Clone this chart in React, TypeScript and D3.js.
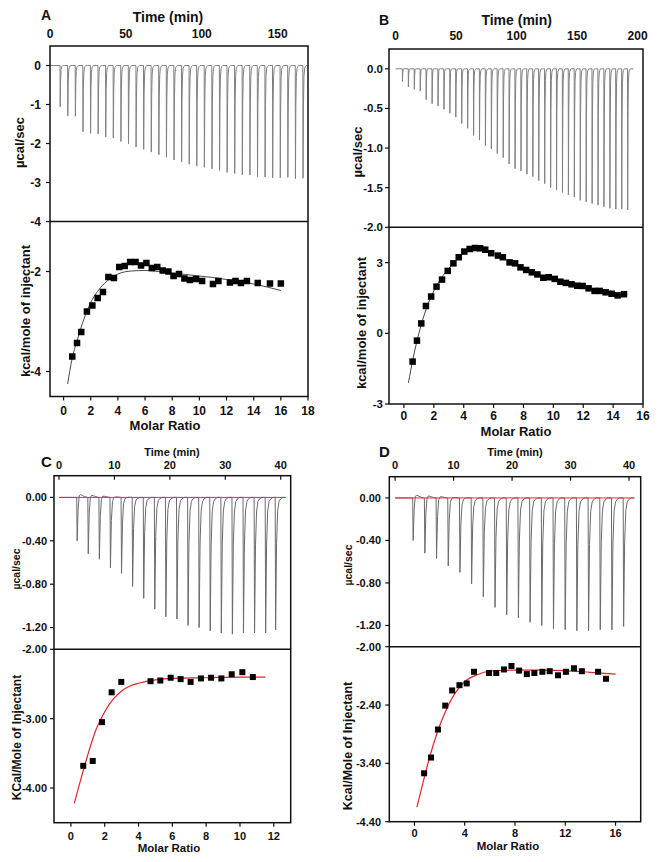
import React from 'react';
import * as d3 from 'd3';

// ---------------- Panel A ----------------
const A_injTime = [6.6, 11.6, 16.6, 21.6, 26.6, 31.6, 36.6, 41.6, 46.6, 51.6, 56.6, 61.6, 66.6, 71.6, 76.6, 81.6, 86.6, 91.6, 96.6, 101.6, 106.6, 111.6, 116.6, 121.6, 126.6, 131.6, 136.6, 141.6, 146.6, 151.6, 156.6, 161.6, 166.6];
const A_peak = [-1.06, -1.29, -1.30, -1.70, -1.74, -1.76, -1.83, -1.86, -1.95, -2.01, -2.09, -2.15, -2.22, -2.29, -2.35, -2.42, -2.47, -2.53, -2.58, -2.61, -2.65, -2.69, -2.74, -2.77, -2.80, -2.81, -2.85, -2.86, -2.88, -2.88, -2.87, -2.90, -2.89];
const A_ratio = [0.64, 0.99, 1.30, 1.72, 2.12, 2.51, 2.90, 3.30, 3.71, 4.10, 4.50, 4.90, 5.30, 5.70, 6.10, 6.50, 6.90, 7.30, 7.72, 8.10, 8.50, 8.90, 9.30, 9.76, 10.20, 11.00, 11.40, 12.25, 12.66, 13.06, 13.50, 14.30, 15.20, 16.00];
const A_heat = [-3.70, -3.43, -3.21, -2.80, -2.68, -2.53, -2.41, -2.11, -2.13, -1.91, -1.89, -1.81, -1.81, -1.88, -1.83, -1.93, -1.91, -1.98, -2.00, -2.09, -2.05, -2.14, -2.17, -2.15, -2.19, -2.25, -2.19, -2.22, -2.19, -2.23, -2.19, -2.23, -2.24, -2.24];
const A_fitRatio = [0.3, 0.6, 1.0, 1.5, 2.0, 2.5, 3.0, 3.5, 4.0, 5.0, 6.0, 7.0, 8.0, 9.0, 10.0, 11.0, 12.0, 13.0, 14.0, 15.0, 16.0];
const A_fitHeat = [-4.25, -3.78, -3.38, -2.95, -2.62, -2.40, -2.24, -2.13, -2.05, -1.99, -1.98, -2.00, -2.03, -2.06, -2.09, -2.12, -2.16, -2.20, -2.25, -2.31, -2.38];
const A_timeTicks = [0, 50, 100, 150];
const A_rateTicks = [0, -1, -2, -3, -4];
const A_rateLabels = ['0', '-1', '-2', '-3', '-4'];
const A_ratioTicks = [0, 2, 4, 6, 8, 10, 12, 14, 16, 18];
const A_heatTicks = [-2, -4];
const A_heatLabels = ['-2', '-4'];

// ---------------- Panel B ----------------
const B_injTime = [5.5, 10.4, 15.3, 20.2, 25.1, 30.0, 34.9, 39.8, 44.7, 49.6, 54.5, 59.4, 64.3, 69.2, 74.1, 79.0, 83.9, 88.8, 93.7, 98.6, 103.5, 108.4, 113.3, 118.2, 123.1, 128.0, 132.9, 137.8, 142.7, 147.6, 152.5, 157.4, 162.3, 167.2, 172.1, 177.0, 181.9, 186.8, 191.7];
const B_peak = [-0.16, -0.23, -0.26, -0.28, -0.39, -0.44, -0.47, -0.51, -0.56, -0.61, -0.69, -0.75, -0.84, -0.90, -0.97, -1.01, -1.07, -1.12, -1.20, -1.26, -1.29, -1.33, -1.36, -1.41, -1.45, -1.50, -1.53, -1.56, -1.59, -1.62, -1.66, -1.68, -1.70, -1.72, -1.74, -1.76, -1.77, -1.77, -1.78];
const B_over = [0.01, 0.005, 0.005, 0.005, 0.015, 0.015, 0.015, 0.012, 0.01, 0.008, 0.005, 0.004, 0, 0, 0, 0, 0, 0, 0, 0, 0, 0, 0, 0, 0, 0, 0, 0, 0, 0, 0, 0, 0, 0, 0, 0, 0, 0, 0];
const B_ratio = [0.58, 0.87, 1.16, 1.47, 1.82, 2.18, 2.55, 2.93, 3.31, 3.67, 4.04, 4.40, 4.76, 5.10, 5.44, 5.84, 6.29, 6.62, 7.07, 7.44, 7.80, 8.18, 8.56, 8.93, 9.33, 9.69, 10.09, 10.47, 10.84, 11.22, 11.60, 11.96, 12.36, 12.76, 13.10, 13.50, 13.90, 14.30, 14.73];
const B_heat = [-1.20, -0.31, 0.42, 1.16, 1.56, 1.98, 2.28, 2.65, 2.97, 3.23, 3.47, 3.58, 3.62, 3.61, 3.55, 3.40, 3.30, 3.23, 3.01, 2.97, 2.80, 2.69, 2.59, 2.50, 2.36, 2.38, 2.31, 2.19, 2.14, 2.08, 2.02, 2.01, 1.91, 1.80, 1.80, 1.74, 1.68, 1.61, 1.66];
const B_fitRatio = [0.3, 0.6, 1.0, 1.5, 2.0, 2.5, 3.0, 3.5, 4.0, 4.5, 5.0, 5.5, 6.0, 7.0, 8.0, 9.0, 10.0, 11.0, 12.0, 13.0, 14.0, 14.8];
const B_fitHeat = [-2.10, -1.10, 0.00, 1.05, 1.80, 2.35, 2.75, 3.10, 3.40, 3.58, 3.62, 3.55, 3.40, 3.08, 2.78, 2.50, 2.30, 2.13, 1.98, 1.84, 1.70, 1.62];
const B_timeTicks = [0, 50, 100, 150, 200];
const B_rateTicks = [0, -0.5, -1.0, -1.5, -2.0];
const B_rateLabels = ['0.0', '-0.5', '-1.0', '-1.5', '-2.0'];
const B_ratioTicks = [0, 2, 4, 6, 8, 10, 12, 14, 16];
const B_heatTicks = [3, 0, -3];
const B_heatLabels = ['3', '0', '-3'];

// ---------------- Panel C ----------------
const C_injTime = [3.2, 5.2, 7.2, 9.2, 11.2, 13.2, 15.2, 17.2, 19.2, 21.2, 23.2, 25.2, 27.2, 29.2, 31.2, 33.2, 35.2, 37.2, 39.0];
const C_peak = [-0.40, -0.52, -0.57, -0.65, -0.70, -0.82, -0.93, -1.03, -1.10, -1.12, -1.18, -1.20, -1.23, -1.25, -1.26, -1.25, -1.25, -1.25, -1.22];
const C_over = [0.055, 0.05, 0.04, 0.025, 0.012, 0, 0, 0, 0, 0, 0, 0, 0, 0, 0, 0, 0, 0, 0];
const C_ratio = [0.73, 1.29, 1.84, 2.41, 2.98, 4.71, 5.29, 5.90, 6.49, 7.08, 7.69, 8.29, 8.90, 9.51, 10.14, 10.76];
const C_heat = [-3.68, -3.61, -3.05, -2.62, -2.47, -2.46, -2.45, -2.41, -2.43, -2.47, -2.42, -2.41, -2.42, -2.36, -2.33, -2.40];
const C_fitRatio = [0.2, 0.5, 1.0, 1.5, 2.0, 2.5, 3.0, 3.5, 4.0, 5.0, 6.0, 8.0, 10.0, 11.5];
const C_fitHeat = [-4.22, -3.95, -3.52, -3.15, -2.90, -2.72, -2.60, -2.53, -2.49, -2.44, -2.42, -2.41, -2.40, -2.40];
const C_timeTicks = [0, 10, 20, 30, 40];
const C_rateTicks = [0, -0.4, -0.8, -1.2];
const C_rateLabels = ['0.00', '-0.40', '-0.80', '-1.20'];
const C_ratioTicks = [0, 2, 4, 6, 8, 10, 12];
const C_heatTicks = [-2, -3, -4];
const C_heatLabels = ['-2.00', '-3.00', '-4.00'];

// ---------------- Panel D ----------------
const D_injTime = [3, 5, 7, 9, 11, 13, 15, 17, 19, 21, 23, 25, 27, 29, 31, 33, 35, 37, 39];
const D_peak = [-0.40, -0.52, -0.57, -0.64, -0.70, -0.81, -0.93, -1.03, -1.10, -1.13, -1.17, -1.20, -1.23, -1.24, -1.25, -1.25, -1.24, -1.24, -1.21];
const D_over = [0.055, 0.05, 0.04, 0.025, 0.012, 0, 0, 0, 0, 0, 0, 0, 0, 0, 0, 0, 0, 0, 0];
const D_ratio = [0.77, 1.32, 1.87, 2.45, 3.00, 3.58, 4.16, 4.74, 5.93, 6.51, 7.12, 7.72, 8.33, 8.94, 9.54, 10.18, 10.76, 11.42, 12.05, 12.69, 13.32, 14.61, 15.24];
const D_heat = [-3.57, -3.30, -2.82, -2.41, -2.15, -2.06, -2.03, -1.83, -1.85, -1.85, -1.79, -1.73, -1.81, -1.87, -1.85, -1.83, -1.82, -1.89, -1.83, -1.77, -1.82, -1.83, -1.95];
const D_fitRatio = [0.2, 0.6, 1.0, 1.5, 2.0, 2.5, 3.0, 3.5, 4.0, 5.0, 6.0, 8.0, 10.0, 12.0, 14.0, 16.0];
const D_fitHeat = [-4.15, -3.80, -3.46, -3.08, -2.76, -2.50, -2.28, -2.12, -2.00, -1.88, -1.82, -1.80, -1.80, -1.81, -1.84, -1.87];
const D_timeTicks = [0, 10, 20, 30, 40];
const D_rateTicks = [0, -0.4, -0.8, -1.2];
const D_rateLabels = ['0.00', '-0.40', '-0.80', '-1.20'];
const D_ratioTicks = [0, 4, 8, 12, 16];
const D_heatTicks = [-1.4, -2.4, -3.4, -4.4];
const D_heatLabels = ['-2.00', '-2.40', '-3.40', '-4.40'];

// peak shape (offset in min, recovery fraction, overshoot fraction)
const SHAPE_OFF = [0, 0.08, 0.25, 0.45, 0.7, 1.0, 1.4, 1.9];
const SHAPE_REC = [0, 1, 0.35, 0.1, 0.03, 0.01, 0, 0];
const SHAPE_BUMP = [0, 0, 0.6, 1, 0.7, 0.4, 0.15, 0];

const FONT = "'Liberation Sans', Arial, Helvetica, sans-serif";

type Cfg = any;

function thermo(times: number[], depths: number[], overs: number[] | null, t0: number, t1: number, w: number) {
  const pts: [number, number][] = [[t0, 0]];
  times.forEach((t, i) => {
    const d = depths[i];
    const o = overs ? overs[i] : 0;
    SHAPE_OFF.forEach((off, k) => pts.push([t + off * w, d * SHAPE_REC[k] + o * SHAPE_BUMP[k]]));
  });
  pts.push([t1, 0]);
  return pts;
}

function Panel({ c }: { c: Cfg }) {
  const sT = d3.scaleLinear().domain(c.tDomain).range([c.left, c.right]);
  const sR = d3.scaleLinear().domain(c.rDomain).range([c.mid, c.top]);
  const sX = d3.scaleLinear().domain(c.xDomain).range([c.left, c.right]);
  const sH = d3.scaleLinear().domain(c.hDomain).range([c.bottom, c.mid]);
  const tline = d3.line<[number, number]>().x(d => sT(d[0])).y(d => sR(d[1]));
  const fitLine = d3.line<[number, number]>().x(d => sX(d[0])).y(d => sH(d[1])).curve(d3.curveMonotoneX);
  const tpts = thermo(c.injTime, c.peak, c.over, c.t0, c.t1, c.shapeW);
  const fitPts = c.fitRatio.map((r: number, i: number) => [r, c.fitHeat[i]] as [number, number]);
  const ms = c.marker;
  const tf = c.tickFont;
  return (
    <g fontFamily={FONT} fontWeight="bold" fill="#111">
      <text x={c.labelX} y={c.labelY} fontSize={c.labelSize}>{c.label}</text>
      <text x={c.timeTitle.x} y={c.timeTitle.y} fontSize={c.timeTitle.size} textAnchor="middle">Time (min)</text>
      {c.timeTicks.map((t: number) => (
        <g key={'tt' + t}>
          <text x={sT(t)} y={c.timeTickY} fontSize={tf} textAnchor="middle">{t}</text>
          {c.topTicksInside && <line x1={sT(t)} x2={sT(t)} y1={c.top} y2={c.top + 4} stroke="#111" strokeWidth={1.2} />}
        </g>
      ))}
      {/* thermogram */}
      <path d={tline(tpts) || ''} fill="none" stroke={c.thermoColor} strokeWidth={c.thermoW} />
      {c.redBase && <line x1={sT(0)} x2={sT(c.t1 - 0.2)} y1={sR(0)} y2={sR(0)} stroke="#e0302a" strokeWidth={1} />}
      {c.rateTicks.map((v: number, i: number) => (
        <g key={'rt' + i}>
          <line x1={c.left - 4} x2={c.left} y1={sR(v)} y2={sR(v)} stroke="#111" strokeWidth={1.2} />
          <text x={c.leftLabelX} y={sR(v)} dy="0.35em" fontSize={c.rateFont || tf} textAnchor="end">{c.rateLabels[i]}</text>
        </g>
      ))}
      <text transform={`translate(${c.rateTitle.x},${c.rateTitle.y}) rotate(-90)`} fontSize={c.rateTitle.size} textAnchor="middle">µcal/sec</text>
      {/* lower */}
      <path d={fitLine(fitPts) || ''} fill="none" stroke={c.fitColor} strokeWidth={c.fitW} />
      {c.ratio.map((r: number, i: number) => (
        <rect key={'m' + i} x={sX(r) - ms / 2} y={sH(c.heat[i]) - ms / 2} width={ms} height={ms} fill="#000" />
      ))}
      {c.heatTicks.map((v: number, i: number) => (
        <g key={'ht' + i}>
          <line x1={c.left - 4} x2={c.left} y1={sH(v)} y2={sH(v)} stroke="#111" strokeWidth={1.2} />
          <text x={c.leftLabelX} y={sH(v)} dy="0.35em" fontSize={c.rateFont || tf} textAnchor="end">{c.heatLabels[i]}</text>
        </g>
      ))}
      {c.ratioTicks.map((v: number) => (
        <g key={'xt' + v}>
          <line x1={sX(v)} x2={sX(v)} y1={c.bottom} y2={c.bottom + 4} stroke="#111" strokeWidth={1.2} />
          <text x={sX(v)} y={c.xTickY} fontSize={tf} textAnchor="middle">{v}</text>
        </g>
      ))}
      <text transform={`translate(${c.heatTitle.x},${c.heatTitle.y}) rotate(-90)`} fontSize={c.heatTitle.size} textAnchor="middle">{c.heatTitle.text}</text>
      <text x={c.molarTitle.x} y={c.molarTitle.y} fontSize={c.molarTitle.size} textAnchor="middle">Molar Ratio</text>
      {/* frame */}
      <rect x={c.left} y={c.top} width={c.right - c.left} height={c.bottom - c.top} fill="none" stroke="#111" strokeWidth={1.5} />
      <line x1={c.left} x2={c.right} y1={c.mid} y2={c.mid} stroke="#111" strokeWidth={1.5} />
    </g>
  );
}

const cfgA = {
  label: 'A', labelX: 41, labelY: 19.5, labelSize: 14,
  left: 50, right: 308, top: 46, mid: 221.5, bottom: 396.5,
  tDomain: [0, 170], rDomain: [-4, 0.5], xDomain: [-1, 18], hDomain: [-4.5, -1],
  injTime: A_injTime, peak: A_peak, over: null, t0: 0, t1: 169.5, shapeW: 1.6,
  thermoColor: '#808080', thermoW: 1,
  ratio: A_ratio, heat: A_heat, fitRatio: A_fitRatio, fitHeat: A_fitHeat, fitColor: '#333', fitW: 0.9,
  timeTicks: A_timeTicks, rateTicks: A_rateTicks, rateLabels: A_rateLabels,
  ratioTicks: A_ratioTicks, heatTicks: A_heatTicks, heatLabels: A_heatLabels,
  tickFont: 12, timeTitle: { x: 168, y: 21.5, size: 14 }, timeTickY: 38, topTicksInside: false,
  leftLabelX: 41, rateTitle: { x: 23.5, y: 142.5, size: 13 },
  heatTitle: { x: 30, y: 311, size: 13, text: 'kcal/mole of injectant' },
  xTickY: 415, molarTitle: { x: 165, y: 430, size: 13 }, marker: 6.5, redBase: false,
};

const cfgB = {
  label: 'B', labelX: 379, labelY: 25, labelSize: 14,
  left: 389, right: 643, top: 49, mid: 227.3, bottom: 404,
  tDomain: [-5.5, 204.5], rDomain: [-2.0, 0.25], xDomain: [-1, 16], hDomain: [-3, 4.5],
  injTime: B_injTime, peak: B_peak, over: B_over, t0: 0, t1: 196.5, shapeW: 1.6,
  thermoColor: '#808080', thermoW: 1,
  ratio: B_ratio, heat: B_heat, fitRatio: B_fitRatio, fitHeat: B_fitHeat, fitColor: '#333', fitW: 0.9,
  timeTicks: B_timeTicks, rateTicks: B_rateTicks, rateLabels: B_rateLabels, rateFont: 11.5,
  ratioTicks: B_ratioTicks, heatTicks: B_heatTicks, heatLabels: B_heatLabels,
  tickFont: 12, timeTitle: { x: 516.7, y: 24.5, size: 14 }, timeTickY: 39.5, topTicksInside: false,
  leftLabelX: 383, rateTitle: { x: 362, y: 152, size: 13 },
  heatTitle: { x: 366, y: 323, size: 13, text: 'kcal/mole of injectant' },
  xTickY: 420, molarTitle: { x: 516, y: 436, size: 13 }, marker: 6.5, redBase: false,
};

const cfgC = {
  label: 'C', labelX: 41, labelY: 467, labelSize: 15,
  left: 54, right: 290.7, top: 475.7, mid: 649.3, bottom: 822.7,
  tDomain: [-0.9, 41.8], rDomain: [-1.4, 0.2], xDomain: [-1, 13], hDomain: [-4.5, -2.0],
  injTime: C_injTime, peak: C_peak, over: C_over, t0: 0, t1: 41, shapeW: 1,
  thermoColor: '#6a6a6a', thermoW: 1,
  ratio: C_ratio, heat: C_heat, fitRatio: C_fitRatio, fitHeat: C_fitHeat, fitColor: '#e0242a', fitW: 1.2,
  timeTicks: C_timeTicks, rateTicks: C_rateTicks, rateLabels: C_rateLabels,
  ratioTicks: C_ratioTicks, heatTicks: C_heatTicks, heatLabels: C_heatLabels,
  tickFont: 11, timeTitle: { x: 172, y: 456, size: 11 }, timeTickY: 468.5, topTicksInside: true,
  leftLabelX: 47, rateTitle: { x: 20, y: 569, size: 10.5 },
  heatTitle: { x: 21, y: 737.5, size: 12, text: 'KCal/Mole of Injectant' },
  xTickY: 839.5, molarTitle: { x: 169, y: 852, size: 11.5 }, marker: 6, redBase: true,
};

const cfgD = {
  label: 'D', labelX: 379, labelY: 457, labelSize: 15,
  left: 389.3, right: 640.7, top: 476.7, mid: 646.7, bottom: 821.7,
  tDomain: [-1, 42], rDomain: [-1.4, 0.2], xDomain: [-2, 18], hDomain: [-4.4, -1.4],
  injTime: D_injTime, peak: D_peak, over: D_over, t0: 0, t1: 41, shapeW: 1,
  thermoColor: '#6a6a6a', thermoW: 1,
  ratio: D_ratio, heat: D_heat, fitRatio: D_fitRatio, fitHeat: D_fitHeat, fitColor: '#e0242a', fitW: 1.2,
  timeTicks: D_timeTicks, rateTicks: D_rateTicks, rateLabels: D_rateLabels,
  ratioTicks: D_ratioTicks, heatTicks: D_heatTicks, heatLabels: D_heatLabels,
  tickFont: 11, timeTitle: { x: 515, y: 456, size: 11 }, timeTickY: 468.5, topTicksInside: true,
  leftLabelX: 381, rateTitle: { x: 352, y: 565, size: 10.5 },
  heatTitle: { x: 352, y: 746, size: 12.5, text: 'Kcal/Mole of Injectant' },
  xTickY: 837, molarTitle: { x: 508, y: 849.5, size: 11.5 }, marker: 6, redBase: true,
};

export default function App() {
  return (
    <svg width={660} height={862} viewBox="0 0 660 862" style={{ position: 'absolute', left: 0, top: 0, background: '#fff' }}>
      <rect x={0} y={0} width={660} height={862} fill="#fff" />
      <Panel c={cfgA} />
      <Panel c={cfgB} />
      <Panel c={cfgC} />
      <Panel c={cfgD} />
    </svg>
  );
}
